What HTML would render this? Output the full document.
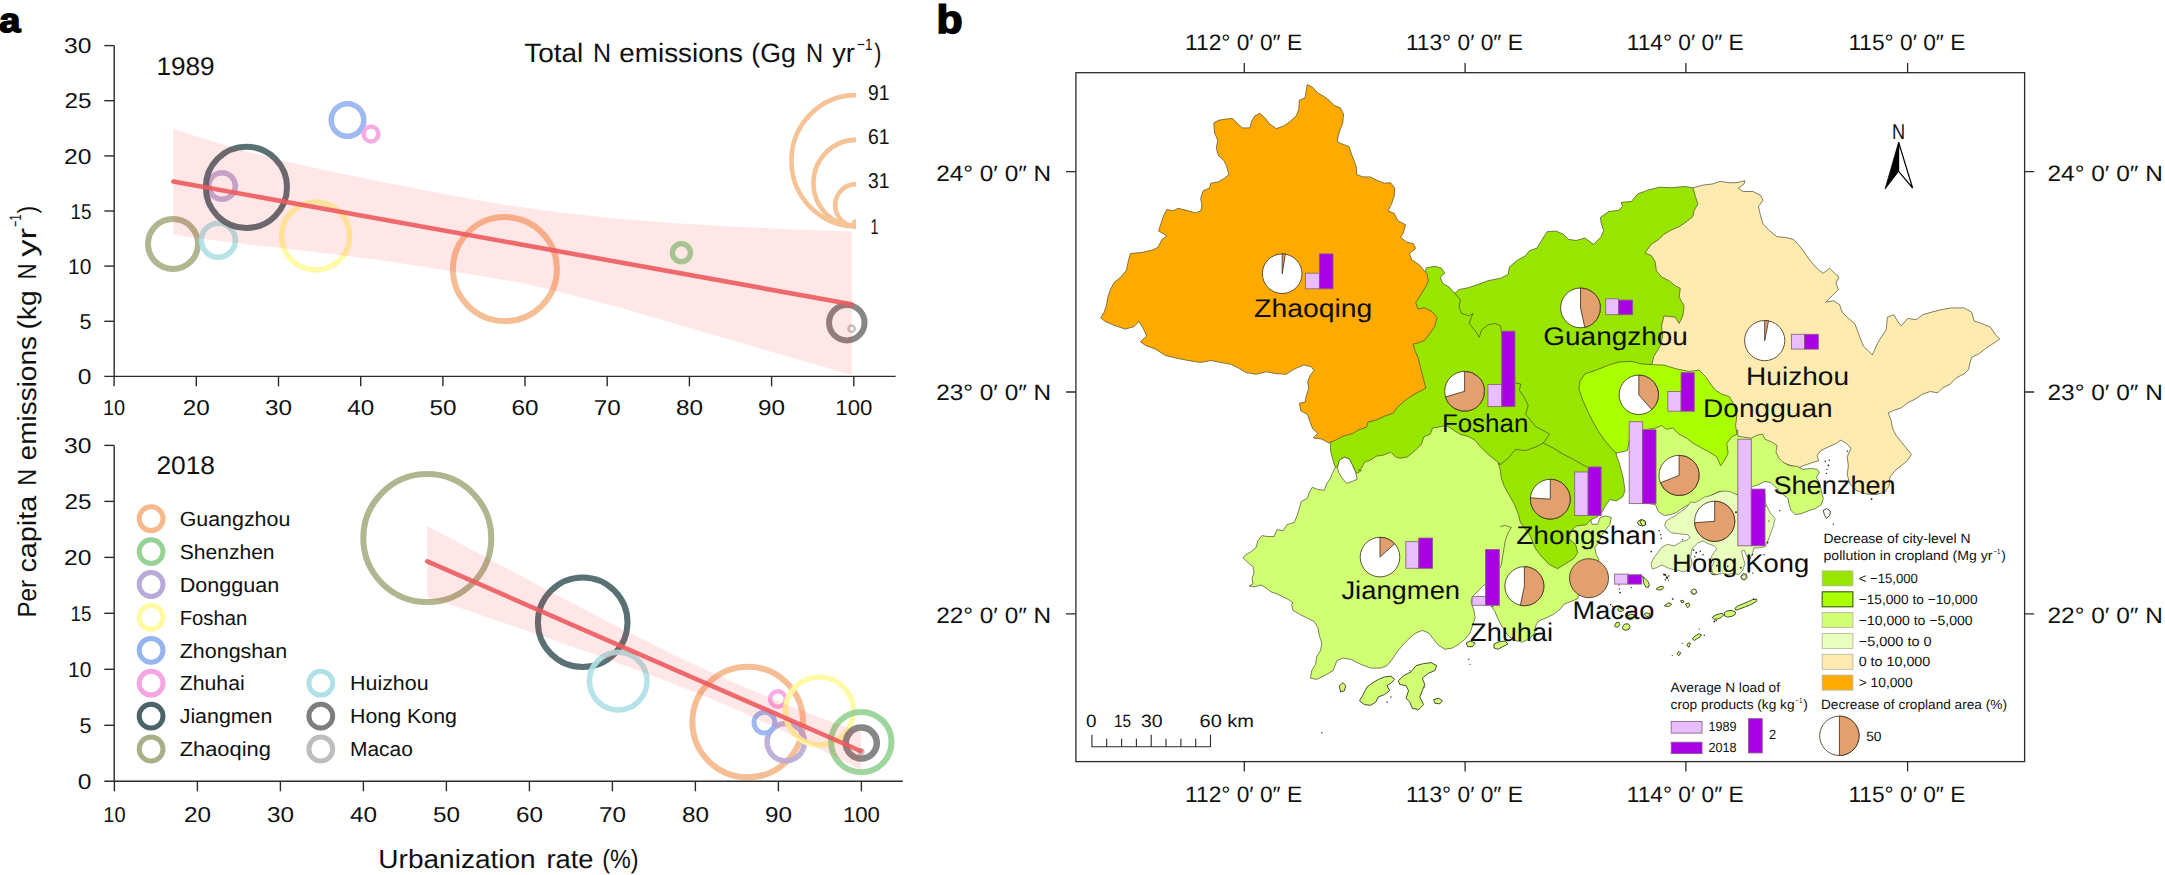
<!DOCTYPE html>
<html lang="en"><head><meta charset="utf-8"><title>Figure</title>
<style>
html,body{margin:0;padding:0;background:#fff;}
body{width:2165px;height:875px;overflow:hidden;}
svg{display:block;font-family:'Liberation Sans', sans-serif;text-rendering:geometricPrecision;}
</style></head><body>
<svg width="2165" height="875" viewBox="0 0 2165 875">
<rect width="2165" height="875" fill="#ffffff"/>
<g id="panel-a">
<text x="-0.8" y="32" font-size="34" textLength="21.2" lengthAdjust="spacingAndGlyphs" font-weight="bold" fill="#000" stroke="#000" stroke-width="1.5">a</text>
<circle cx="504.9" cy="269.1" r="52" fill="none" stroke="#F5B98C" stroke-width="6" stroke-opacity="0.92"/>
<circle cx="315.6" cy="236" r="34" fill="none" stroke="#FFFAA0" stroke-width="5.5" stroke-opacity="0.92"/>
<circle cx="173" cy="244" r="25" fill="none" stroke="#AAAF87" stroke-width="6" stroke-opacity="0.92"/>
<circle cx="218.3" cy="240.2" r="17" fill="none" stroke="#AFE1E6" stroke-width="5.5" stroke-opacity="0.92"/>
<circle cx="222" cy="186" r="13.3" fill="none" stroke="#B9AAD7" stroke-width="5.5" stroke-opacity="0.92"/>
<circle cx="246.4" cy="187.3" r="40.6" fill="none" stroke="#4B6469" stroke-width="6" stroke-opacity="0.92"/>
<circle cx="347.5" cy="120" r="16.3" fill="none" stroke="#96B4F0" stroke-width="5.5" stroke-opacity="0.92"/>
<circle cx="371" cy="134" r="7.4" fill="none" stroke="#F5A5E1" stroke-width="4.5" stroke-opacity="0.92"/>
<circle cx="681.4" cy="252.8" r="9" fill="none" stroke="#96D296" stroke-width="5.5" stroke-opacity="0.92"/>
<circle cx="846.8" cy="322.7" r="17.7" fill="none" stroke="#7D7D7D" stroke-width="6" stroke-opacity="0.92"/>
<circle cx="851.6" cy="328.7" r="3.2" fill="none" stroke="#BEBEBE" stroke-width="2.4" stroke-opacity="0.92"/>
<polygon points="173.3,129 200,137.5 247,151.7 290,162.5 334,172 380,181.5 420,189.3 460,197 500,204 560,212.5 620,219 680,223.5 740,227 800,229.7 852,231.6 852,375 800,360 740,342.5 692,328.8 620,307.5 560,292 520,282.6 460,272.5 420,266.3 380,260 334,254.4 290,249 247,244.2 200,238.5 173.3,234.5" fill="#ff2020" fill-opacity="0.11"/>
<line x1="173.3" y1="181.5" x2="851.5" y2="304.3" stroke="#ec5a5e" stroke-opacity="0.9" stroke-width="4.6" stroke-linecap="round"/>
<path d="M114.2,45.6 V376.4 M104.3,376.4 H895.6" stroke="#2b2b2b" stroke-width="1.4" fill="none"/>
<line x1="104.3" x2="114.2" y1="45.6" y2="45.6" stroke="#2b2b2b" stroke-width="1.4"/>
<text x="91.4" y="53.3" font-size="21.6" text-anchor="end" textLength="27.4" lengthAdjust="spacingAndGlyphs" fill="#111">30</text>
<line x1="104.3" x2="114.2" y1="100.7" y2="100.7" stroke="#2b2b2b" stroke-width="1.4"/>
<text x="91.4" y="108.4" font-size="21.6" text-anchor="end" textLength="27" lengthAdjust="spacingAndGlyphs" fill="#111">25</text>
<line x1="104.3" x2="114.2" y1="155.9" y2="155.9" stroke="#2b2b2b" stroke-width="1.4"/>
<text x="91.4" y="163.6" font-size="21.6" text-anchor="end" textLength="27.4" lengthAdjust="spacingAndGlyphs" fill="#111">20</text>
<line x1="104.3" x2="114.2" y1="211" y2="211" stroke="#2b2b2b" stroke-width="1.4"/>
<text x="91.4" y="218.7" font-size="21.6" text-anchor="end" textLength="20.9" lengthAdjust="spacingAndGlyphs" fill="#111">15</text>
<line x1="104.3" x2="114.2" y1="266.1" y2="266.1" stroke="#2b2b2b" stroke-width="1.4"/>
<text x="91.4" y="273.8" font-size="21.6" text-anchor="end" textLength="23.3" lengthAdjust="spacingAndGlyphs" fill="#111">10</text>
<line x1="104.3" x2="114.2" y1="321.3" y2="321.3" stroke="#2b2b2b" stroke-width="1.4"/>
<text x="91.4" y="329" font-size="21.6" text-anchor="end" textLength="12" lengthAdjust="spacingAndGlyphs" fill="#111">5</text>
<text x="91.4" y="384.1" font-size="21.6" text-anchor="end" textLength="13.7" lengthAdjust="spacingAndGlyphs" fill="#111">0</text>
<line x1="114.1" x2="114.1" y1="376.4" y2="386.3" stroke="#2b2b2b" stroke-width="1.4"/>
<text x="114.1" y="415.2" font-size="21.6" text-anchor="middle" textLength="22.2" lengthAdjust="spacingAndGlyphs" fill="#111">10</text>
<line x1="196.3" x2="196.3" y1="376.4" y2="386.3" stroke="#2b2b2b" stroke-width="1.4"/>
<text x="196.3" y="415.2" font-size="21.6" text-anchor="middle" textLength="27" lengthAdjust="spacingAndGlyphs" fill="#111">20</text>
<line x1="278.5" x2="278.5" y1="376.4" y2="386.3" stroke="#2b2b2b" stroke-width="1.4"/>
<text x="278.5" y="415.2" font-size="21.6" text-anchor="middle" textLength="27" lengthAdjust="spacingAndGlyphs" fill="#111">30</text>
<line x1="360.7" x2="360.7" y1="376.4" y2="386.3" stroke="#2b2b2b" stroke-width="1.4"/>
<text x="360.7" y="415.2" font-size="21.6" text-anchor="middle" textLength="27" lengthAdjust="spacingAndGlyphs" fill="#111">40</text>
<line x1="442.9" x2="442.9" y1="376.4" y2="386.3" stroke="#2b2b2b" stroke-width="1.4"/>
<text x="442.9" y="415.2" font-size="21.6" text-anchor="middle" textLength="27" lengthAdjust="spacingAndGlyphs" fill="#111">50</text>
<line x1="525" x2="525" y1="376.4" y2="386.3" stroke="#2b2b2b" stroke-width="1.4"/>
<text x="525" y="415.2" font-size="21.6" text-anchor="middle" textLength="27" lengthAdjust="spacingAndGlyphs" fill="#111">60</text>
<line x1="607.2" x2="607.2" y1="376.4" y2="386.3" stroke="#2b2b2b" stroke-width="1.4"/>
<text x="607.2" y="415.2" font-size="21.6" text-anchor="middle" textLength="27" lengthAdjust="spacingAndGlyphs" fill="#111">70</text>
<line x1="689.4" x2="689.4" y1="376.4" y2="386.3" stroke="#2b2b2b" stroke-width="1.4"/>
<text x="689.4" y="415.2" font-size="21.6" text-anchor="middle" textLength="27" lengthAdjust="spacingAndGlyphs" fill="#111">80</text>
<line x1="771.6" x2="771.6" y1="376.4" y2="386.3" stroke="#2b2b2b" stroke-width="1.4"/>
<text x="771.6" y="415.2" font-size="21.6" text-anchor="middle" textLength="27" lengthAdjust="spacingAndGlyphs" fill="#111">90</text>
<line x1="853.8" x2="853.8" y1="376.4" y2="386.3" stroke="#2b2b2b" stroke-width="1.4"/>
<text x="853.8" y="415.2" font-size="21.6" text-anchor="middle" textLength="37" lengthAdjust="spacingAndGlyphs" fill="#111">100</text>
<text x="156.4" y="74.9" font-size="25.6" textLength="58.3" lengthAdjust="spacingAndGlyphs" fill="#111">1989</text>
<text x="524.2" y="61.6" font-size="26.6" textLength="59.1" lengthAdjust="spacingAndGlyphs" fill="#111">Total</text>
<text x="592.9" y="61.6" font-size="26.6" textLength="18.1" lengthAdjust="spacingAndGlyphs" fill="#111">N</text>
<text x="619.3" y="61.6" font-size="26.6" textLength="123.7" lengthAdjust="spacingAndGlyphs" fill="#111">emissions</text>
<text x="751.3" y="61.6" font-size="26.6" textLength="44.5" lengthAdjust="spacingAndGlyphs" fill="#111">(Gg</text>
<text x="805.9" y="61.6" font-size="26.6" textLength="17.1" lengthAdjust="spacingAndGlyphs" fill="#111">N</text>
<text x="832.3" y="61.6" font-size="26.6" textLength="22.6" lengthAdjust="spacingAndGlyphs" fill="#111">yr</text>
<text x="857" y="49.5" font-size="16.5" textLength="15.5" lengthAdjust="spacingAndGlyphs" fill="#111">−1</text>
<text x="874.2" y="61.6" font-size="26.6" textLength="7.1" lengthAdjust="spacingAndGlyphs" fill="#111">)</text>
<path d="M856,95.1 A64.6,65.6 0 0 0 856,226.3" fill="none" stroke="#F5C396" stroke-width="4.6"/>
<path d="M856,139.9 A42.6,43.2 0 0 0 856,226.3" fill="none" stroke="#F5C396" stroke-width="4.6"/>
<path d="M856,184.1 A20.8,21.1 0 0 0 856,226.3" fill="none" stroke="#F5C396" stroke-width="4.6"/>
<path d="M856,221.5 A2.4,2.4 0 0 0 856,226.3" fill="none" stroke="#F5C396" stroke-width="4.6"/>
<text x="868" y="99.8" font-size="21.6" textLength="21.5" lengthAdjust="spacingAndGlyphs" fill="#111">91</text>
<text x="868" y="144.4" font-size="21.6" textLength="21.5" lengthAdjust="spacingAndGlyphs" fill="#111">61</text>
<text x="868" y="187.6" font-size="21.6" textLength="21.5" lengthAdjust="spacingAndGlyphs" fill="#111">31</text>
<text x="870.5" y="233.5" font-size="21.6" textLength="8" lengthAdjust="spacingAndGlyphs" fill="#111">1</text>
<circle cx="427.3" cy="538.1" r="64" fill="none" stroke="#AAAF87" stroke-width="6" stroke-opacity="0.92"/>
<circle cx="582.7" cy="622.3" r="44.8" fill="none" stroke="#4B6469" stroke-width="6" stroke-opacity="0.92"/>
<circle cx="618.2" cy="681.1" r="28.8" fill="none" stroke="#AFE1E6" stroke-width="5.5" stroke-opacity="0.92"/>
<circle cx="747.7" cy="722" r="55.3" fill="none" stroke="#F5B98C" stroke-width="6" stroke-opacity="0.92"/>
<circle cx="785.8" cy="742.1" r="18.7" fill="none" stroke="#B9AAD7" stroke-width="5.5" stroke-opacity="0.92"/>
<circle cx="764.4" cy="722.6" r="10.4" fill="none" stroke="#96B4F0" stroke-width="5" stroke-opacity="0.92"/>
<circle cx="777.9" cy="699" r="7.8" fill="none" stroke="#F5A5E1" stroke-width="4.5" stroke-opacity="0.92"/>
<circle cx="819.4" cy="711" r="34" fill="none" stroke="#FFFAA0" stroke-width="5.5" stroke-opacity="0.92"/>
<circle cx="861.3" cy="742.1" r="30.2" fill="none" stroke="#96D296" stroke-width="6" stroke-opacity="0.92"/>
<circle cx="861.3" cy="743.1" r="15.5" fill="none" stroke="#7D7D7D" stroke-width="6.5" stroke-opacity="0.92"/>
<circle cx="861" cy="751.6" r="2.6" fill="none" stroke="#BEBEBE" stroke-width="2.2" stroke-opacity="0.92"/>
<polygon points="427.3,525.9 445.4,535.6 463.4,545.3 481.5,555 499.6,564.6 517.7,574.3 535.7,583.8 553.8,593.4 571.9,602.9 589.9,612.3 608,621.7 626.1,630.9 644.1,640 662.2,649 680.3,657.8 698.4,666.4 716.4,674.8 734.5,682.8 752.6,690.6 770.6,698.1 788.7,705.3 806.8,712.4 824.9,719.2 842.9,725.9 861,732.4 861,769.9 842.9,760.7 824.9,751.6 806.8,742.6 788.7,733.8 770.6,725.2 752.6,716.9 734.5,708.8 716.4,701.1 698.4,693.6 680.3,686.4 662.2,679.4 644.1,672.5 626.1,665.9 608,659.3 589.9,652.8 571.9,646.5 553.8,640.1 535.7,633.9 517.7,627.6 499.6,621.4 481.5,615.3 463.4,609.1 445.4,603 427.3,596.9" fill="#ff2020" fill-opacity="0.11"/>
<line x1="427.3" y1="561.4" x2="860.6" y2="751" stroke="#ec5a5e" stroke-opacity="0.9" stroke-width="4.6" stroke-linecap="round"/>
<path d="M114.2,445.4 V781.3 M104.3,781.3 H902.8" stroke="#2b2b2b" stroke-width="1.4" fill="none"/>
<line x1="104.3" x2="114.2" y1="445.4" y2="445.4" stroke="#2b2b2b" stroke-width="1.4"/>
<text x="91.4" y="453.1" font-size="21.6" text-anchor="end" textLength="27.4" lengthAdjust="spacingAndGlyphs" fill="#111">30</text>
<line x1="104.3" x2="114.2" y1="501.4" y2="501.4" stroke="#2b2b2b" stroke-width="1.4"/>
<text x="91.4" y="509.1" font-size="21.6" text-anchor="end" textLength="27" lengthAdjust="spacingAndGlyphs" fill="#111">25</text>
<line x1="104.3" x2="114.2" y1="557.4" y2="557.4" stroke="#2b2b2b" stroke-width="1.4"/>
<text x="91.4" y="565.1" font-size="21.6" text-anchor="end" textLength="27.4" lengthAdjust="spacingAndGlyphs" fill="#111">20</text>
<line x1="104.3" x2="114.2" y1="613.3" y2="613.3" stroke="#2b2b2b" stroke-width="1.4"/>
<text x="91.4" y="621" font-size="21.6" text-anchor="end" textLength="20.9" lengthAdjust="spacingAndGlyphs" fill="#111">15</text>
<line x1="104.3" x2="114.2" y1="669.3" y2="669.3" stroke="#2b2b2b" stroke-width="1.4"/>
<text x="91.4" y="677" font-size="21.6" text-anchor="end" textLength="23.3" lengthAdjust="spacingAndGlyphs" fill="#111">10</text>
<line x1="104.3" x2="114.2" y1="725.3" y2="725.3" stroke="#2b2b2b" stroke-width="1.4"/>
<text x="91.4" y="733" font-size="21.6" text-anchor="end" textLength="12" lengthAdjust="spacingAndGlyphs" fill="#111">5</text>
<text x="91.4" y="789" font-size="21.6" text-anchor="end" textLength="13.7" lengthAdjust="spacingAndGlyphs" fill="#111">0</text>
<line x1="114.4" x2="114.4" y1="781.3" y2="791.3" stroke="#2b2b2b" stroke-width="1.4"/>
<text x="114.4" y="821.6" font-size="21.6" text-anchor="middle" textLength="22.2" lengthAdjust="spacingAndGlyphs" fill="#111">10</text>
<line x1="197.4" x2="197.4" y1="781.3" y2="791.3" stroke="#2b2b2b" stroke-width="1.4"/>
<text x="197.4" y="821.6" font-size="21.6" text-anchor="middle" textLength="27" lengthAdjust="spacingAndGlyphs" fill="#111">20</text>
<line x1="280.4" x2="280.4" y1="781.3" y2="791.3" stroke="#2b2b2b" stroke-width="1.4"/>
<text x="280.4" y="821.6" font-size="21.6" text-anchor="middle" textLength="27" lengthAdjust="spacingAndGlyphs" fill="#111">30</text>
<line x1="363.4" x2="363.4" y1="781.3" y2="791.3" stroke="#2b2b2b" stroke-width="1.4"/>
<text x="363.4" y="821.6" font-size="21.6" text-anchor="middle" textLength="27" lengthAdjust="spacingAndGlyphs" fill="#111">40</text>
<line x1="446.4" x2="446.4" y1="781.3" y2="791.3" stroke="#2b2b2b" stroke-width="1.4"/>
<text x="446.4" y="821.6" font-size="21.6" text-anchor="middle" textLength="27" lengthAdjust="spacingAndGlyphs" fill="#111">50</text>
<line x1="529.4" x2="529.4" y1="781.3" y2="791.3" stroke="#2b2b2b" stroke-width="1.4"/>
<text x="529.4" y="821.6" font-size="21.6" text-anchor="middle" textLength="27" lengthAdjust="spacingAndGlyphs" fill="#111">60</text>
<line x1="612.4" x2="612.4" y1="781.3" y2="791.3" stroke="#2b2b2b" stroke-width="1.4"/>
<text x="612.4" y="821.6" font-size="21.6" text-anchor="middle" textLength="27" lengthAdjust="spacingAndGlyphs" fill="#111">70</text>
<line x1="695.4" x2="695.4" y1="781.3" y2="791.3" stroke="#2b2b2b" stroke-width="1.4"/>
<text x="695.4" y="821.6" font-size="21.6" text-anchor="middle" textLength="27" lengthAdjust="spacingAndGlyphs" fill="#111">80</text>
<line x1="778.4" x2="778.4" y1="781.3" y2="791.3" stroke="#2b2b2b" stroke-width="1.4"/>
<text x="778.4" y="821.6" font-size="21.6" text-anchor="middle" textLength="27" lengthAdjust="spacingAndGlyphs" fill="#111">90</text>
<line x1="861.4" x2="861.4" y1="781.3" y2="791.3" stroke="#2b2b2b" stroke-width="1.4"/>
<text x="861.4" y="821.6" font-size="21.6" text-anchor="middle" textLength="37" lengthAdjust="spacingAndGlyphs" fill="#111">100</text>
<text x="156.4" y="474.3" font-size="25.6" textLength="58.6" lengthAdjust="spacingAndGlyphs" fill="#111">2018</text>
<text x="378.3" y="867.6" font-size="26.2" textLength="157.4" lengthAdjust="spacingAndGlyphs" fill="#111">Urbanization</text>
<text x="546.4" y="867.6" font-size="26.2" textLength="47.1" lengthAdjust="spacingAndGlyphs" fill="#111">rate</text>
<text x="602.2" y="867.6" font-size="26.2" textLength="36.3" lengthAdjust="spacingAndGlyphs" fill="#111">(%)</text>
<circle cx="151.1" cy="518.7" r="11.9" fill="none" stroke="#F5B98C" stroke-width="5" stroke-opacity="1"/>
<text x="179.7" y="525.9" font-size="20.4" textLength="110.6" lengthAdjust="spacingAndGlyphs" fill="#111">Guangzhou</text>
<circle cx="151.1" cy="551.6" r="11.9" fill="none" stroke="#96D296" stroke-width="5" stroke-opacity="1"/>
<text x="179.7" y="558.8" font-size="20.4" textLength="94.9" lengthAdjust="spacingAndGlyphs" fill="#111">Shenzhen</text>
<circle cx="151.1" cy="584.5" r="11.9" fill="none" stroke="#B9AAD7" stroke-width="5" stroke-opacity="1"/>
<text x="179.7" y="591.7" font-size="20.4" textLength="99.6" lengthAdjust="spacingAndGlyphs" fill="#111">Dongguan</text>
<circle cx="151.1" cy="617.4" r="11.9" fill="none" stroke="#FFFAA0" stroke-width="5" stroke-opacity="1"/>
<text x="179.7" y="624.6" font-size="20.4" textLength="67.6" lengthAdjust="spacingAndGlyphs" fill="#111">Foshan</text>
<circle cx="151.1" cy="650.3" r="11.9" fill="none" stroke="#96B4F0" stroke-width="5" stroke-opacity="1"/>
<text x="179.7" y="657.5" font-size="20.4" textLength="107.5" lengthAdjust="spacingAndGlyphs" fill="#111">Zhongshan</text>
<circle cx="151.1" cy="683.2" r="11.9" fill="none" stroke="#F5A5E1" stroke-width="5" stroke-opacity="1"/>
<text x="179.7" y="690.4" font-size="20.4" textLength="65" lengthAdjust="spacingAndGlyphs" fill="#111">Zhuhai</text>
<circle cx="151.1" cy="716.1" r="11.9" fill="none" stroke="#4B6469" stroke-width="5" stroke-opacity="1"/>
<text x="179.7" y="723.3" font-size="20.4" textLength="92.7" lengthAdjust="spacingAndGlyphs" fill="#111">Jiangmen</text>
<circle cx="151.1" cy="749" r="11.9" fill="none" stroke="#AAAF87" stroke-width="5" stroke-opacity="1"/>
<text x="179.7" y="756.2" font-size="20.4" textLength="91.1" lengthAdjust="spacingAndGlyphs" fill="#111">Zhaoqing</text>
<circle cx="320.8" cy="683.2" r="11.9" fill="none" stroke="#AFE1E6" stroke-width="5" stroke-opacity="1"/>
<text x="350" y="690.4" font-size="20.4" textLength="78.6" lengthAdjust="spacingAndGlyphs" fill="#111">Huizhou</text>
<circle cx="320.8" cy="716.1" r="11.9" fill="none" stroke="#7D7D7D" stroke-width="5" stroke-opacity="1"/>
<text x="350" y="723.3" font-size="20.4" textLength="106.9" lengthAdjust="spacingAndGlyphs" fill="#111">Hong Kong</text>
<circle cx="320.8" cy="749" r="11.9" fill="none" stroke="#BEBEBE" stroke-width="5" stroke-opacity="1"/>
<text x="350" y="756.2" font-size="20.4" textLength="62.9" lengthAdjust="spacingAndGlyphs" fill="#111">Macao</text>
<g transform="translate(36.2,617.6) rotate(-90)">
<text x="0" y="0" font-size="26.2" textLength="37.7" lengthAdjust="spacingAndGlyphs" fill="#111">Per</text>
<text x="45" y="0" font-size="26.2" textLength="76.8" lengthAdjust="spacingAndGlyphs" fill="#111">capita</text>
<text x="132" y="0" font-size="26.2" textLength="16.5" lengthAdjust="spacingAndGlyphs" fill="#111">N</text>
<text x="157.2" y="0" font-size="26.2" textLength="124.4" lengthAdjust="spacingAndGlyphs" fill="#111">emissions</text>
<text x="288" y="0" font-size="26.2" textLength="39.2" lengthAdjust="spacingAndGlyphs" fill="#111">(kg</text>
<text x="338.3" y="0" font-size="26.2" textLength="15.7" lengthAdjust="spacingAndGlyphs" fill="#111">N</text>
<text x="360.8" y="0" font-size="26.2" textLength="28.8" lengthAdjust="spacingAndGlyphs" fill="#111">yr</text>
<text x="390.6" y="-15.2" font-size="16.5" textLength="12.6" lengthAdjust="spacingAndGlyphs" fill="#111">−1</text>
<text x="404.2" y="0" font-size="26.2" textLength="7.8" lengthAdjust="spacingAndGlyphs" fill="#111">)</text>
</g>
</g>
<g id="panel-b">
<text x="936.6" y="32.8" font-size="39.5" textLength="26.1" lengthAdjust="spacingAndGlyphs" font-weight="bold" fill="#000" stroke="#000" stroke-width="1.6">b</text>
<clipPath id="fc"><rect x="1075.9" y="72.7" width="948.7" height="688.9"/></clipPath>
<g clip-path="url(#fc)">
<path d="M1693.1,187.7 L1702.6,185.2 L1712.7,183.9 L1720.2,181.4 L1729,182.7 L1736.6,182.7 L1744.9,180.7 L1744.1,183.9 L1738.3,188.2 L1742.9,191.5 L1752.9,191.5 L1760.5,195.3 L1763,200.3 L1758.4,206.6 L1760.5,215.4 L1763,224.2 L1769.3,230.5 L1776.8,236.7 L1785.6,237.5 L1793.1,239.3 L1798.2,244.3 L1803.2,250.6 L1808.2,258.1 L1813.2,264.4 L1819.5,270.7 L1823.3,273.2 L1829.6,268.2 L1834.6,273.2 L1838.9,277 L1835.9,283.2 L1838.4,289.5 L1832.1,295.8 L1825.8,302.1 L1833.4,300.8 L1839.6,304.6 L1842.2,312.2 L1848.4,318.4 L1854.7,323.5 L1857.2,329.8 L1859.8,337.3 L1863.5,346.1 L1868.6,351.1 L1872.3,354.9 L1877.4,343.6 L1881.1,337.3 L1886.2,329.8 L1887.4,317.2 L1893.7,314.7 L1897.5,321 L1901.2,326 L1907.5,318.4 L1916.3,319.7 L1922.6,314.7 L1931.4,312.2 L1941.5,309.6 L1951.5,307.9 L1964.1,307.9 L1971.6,312.2 L1974.2,321 L1981.7,323.5 L1990.5,327.2 L1995.5,334.8 L1999.8,339.1 L1993,343.6 L1985.5,348.6 L1979.2,353.6 L1971.6,357.4 L1969.1,366.2 L1969.1,368.9 L1964.1,373.9 L1956.6,377.7 L1950.3,384 L1942.7,387.8 L1937.7,392.8 L1930.2,391.5 L1922.6,394.1 L1915.1,399.1 L1907.5,402.9 L1901.2,407.9 L1893.7,410.4 L1888.2,412.9 L1891.2,420.5 L1892.4,428 L1896.2,435.5 L1901.2,441.8 L1906.3,448.1 L1911.3,454.4 L1907.5,460.7 L1901.2,465.7 L1895,470.7 L1889.9,477 L1889.2,485.8 L1884.9,492.1 L1876.1,494.6 L1866,493.9 L1856,490.3 L1849.7,483.3 L1847.2,474.5 L1848.4,465.7 L1847.2,456.9 L1851,448.1 L1845.9,443.1 L1840.9,440.1 L1835.9,443.6 L1828.3,446.9 L1820.8,450.6 L1817,455.7 L1818.8,460.7 L1810.7,463.2 L1803.2,465.7 L1798.2,468.2 L1755.4,453.1 L1705.1,415.4 L1626.3,390.3 L1626.3,300.8 L1636.3,250.6 L1676.6,212.9Z" fill="#FFEBAF" stroke="#4a4a2a" stroke-width="0.7" stroke-linejoin="round"/>
<path d="M1335.5,467.2 L1332.4,473.2 L1330.4,478.3 L1326.4,484.3 L1324.4,490.3 L1317.4,489.3 L1312.3,487.3 L1309.3,492.3 L1307.3,498.4 L1301.3,501.4 L1299.3,508.4 L1297.2,515.5 L1294.2,522.5 L1287.2,524.5 L1283.2,530.6 L1277.1,529.6 L1274.1,536.6 L1268.1,536.6 L1262,535.6 L1258,540.6 L1256,547.7 L1251,551.7 L1246,554.7 L1242.9,557.7 L1247,561.7 L1253,566.8 L1254,572.8 L1252,578.8 L1253,583.9 L1249,585.9 L1254,586.9 L1261,584.9 L1266.1,587.9 L1271.1,591.9 L1277.1,593.9 L1283.2,596.9 L1289.2,600 L1293.2,603 L1291.6,604 L1292.9,610.3 L1299.1,614.1 L1306.7,617.8 L1314.2,621.6 L1318,627.9 L1319.3,635.4 L1321.8,643 L1320.5,650.5 L1316.7,656.8 L1315.5,664.3 L1311.7,670.6 L1310.5,678.2 L1316.7,679.4 L1326.8,674.4 L1333.1,670.6 L1336.9,660.6 L1343.1,658.1 L1350.7,659.3 L1360.7,664.3 L1370.8,668.1 L1380.8,668.1 L1387.1,665.6 L1392.2,659.3 L1397.2,651.8 L1403.5,644.2 L1409.8,637.9 L1416,632.9 L1422.3,630.4 L1428.6,632.9 L1433.6,639.2 L1438.7,645.5 L1445,649.3 L1452.5,648 L1458.8,644.2 L1465.1,639.2 L1470.1,632.9 L1472.6,625.4 L1475.1,617.8 L1473.9,610.3 L1471.4,602.7 L1471.1,600.9 L1473.1,595.9 L1479.2,589.8 L1484.2,584.8 L1489.2,588.8 L1492.2,598.9 L1493.3,606.9 L1490.8,605.8 L1494.9,611.3 L1497.6,618.2 L1500.4,623.7 L1504.5,630.5 L1508.6,636 L1514.1,640.1 L1522.3,642.2 L1529.2,638.8 L1534.7,633.3 L1536,625 L1538.8,620.9 L1545.6,618.2 L1553.9,614.1 L1560.7,608.6 L1563.5,604.5 L1570.3,601.7 L1577.2,599 L1599,559.9 L1596.2,554.4 L1594.8,547.6 L1599,542.1 L1601.7,535.2 L1605.8,529.8 L1609.9,524.3 L1611.3,517.4 L1605.8,516 L1600.3,517.4 L1597.6,524.3 L1592.1,524.3 L1590.7,519.5 L1581.1,520.8 L1574.3,522.9 L1567.4,531.1 L1561,530 L1530,480 L1500,440 L1475,420 L1446,405 L1425,415 L1410,435 L1400,440 L1375,445 L1362,455Z" fill="#D1FF73" stroke="#4a4a2a" stroke-width="0.7" stroke-linejoin="round"/>
<path d="M1359.5,700.8 L1363.2,694.5 L1367,687 L1372,683.2 L1378.3,679.4 L1384.6,676.9 L1390.9,676.2 L1394.7,679.4 L1390.9,683.2 L1387.1,685.7 L1389.6,690.7 L1384.6,694.5 L1378.3,697 L1375.8,702 L1370.8,705.3 L1364.5,704.6Z" fill="#D1FF73" stroke="#1e1e10" stroke-width="0.8" stroke-linejoin="round"/>
<path d="M1398.4,680.7 L1403.5,675.7 L1411,671.9 L1416,665.6 L1423.6,663.6 L1431.1,662.6 L1436.7,665.6 L1434.9,670.6 L1428.6,673.1 L1422.3,678.2 L1424.8,684.5 L1422.3,690.7 L1419.8,697 L1423.6,704.6 L1418.6,709.6 L1412.3,708.3 L1409.8,702 L1406,698.3 L1408.5,690.7 L1406,685.7 L1399.7,684.5Z" fill="#D1FF73" stroke="#1e1e10" stroke-width="0.8" stroke-linejoin="round"/>
<path d="M1339.4,685.7 L1343.1,682.7 L1345.7,685.7 L1344.4,690.7 L1340.6,692Z" fill="#D1FF73" stroke="#1e1e10" stroke-width="0.8" stroke-linejoin="round"/>
<path d="M1433.6,699.5 L1438.7,698.3 L1442.4,700.8 L1439.9,703.8 L1434.9,703.3Z" fill="#D1FF73" stroke="#1e1e10" stroke-width="0.8" stroke-linejoin="round"/>
<path d="M1466.3,643 L1470.1,641 L1475.1,643 L1472.6,646.7 L1467.6,646.7Z" fill="#D1FF73" stroke="#1e1e10" stroke-width="0.8" stroke-linejoin="round"/>
<path d="M1494,644.2 L1499,641.7 L1505.3,641 L1507.8,644.2 L1502.8,646.7 L1497.8,649.3 L1494,648Z" fill="#D1FF73" stroke="#1e1e10" stroke-width="0.8" stroke-linejoin="round"/>
<path d="M1642.7,576.3 L1645.3,578.8 L1647.8,581.3 L1649.3,584.5 L1648.4,587.3 L1645.9,587 L1644,583.8 L1643.4,580.1Z" fill="#D1FF73" stroke="#1e1e10" stroke-width="0.8" stroke-linejoin="round"/>
<path d="M1656.2,588.9 L1659.1,587 L1662.2,586.1 L1663.9,587.3 L1662.2,589.5 L1658.5,590.1Z" fill="#D1FF73" stroke="#1e1e10" stroke-width="0.8" stroke-linejoin="round"/>
<path d="M1690.8,591.4 L1693,589.1 L1695.8,589.5 L1696.8,592.6 L1694.3,594.5 L1691.8,593.6Z" fill="#D1FF73" stroke="#1e1e10" stroke-width="0.8" stroke-linejoin="round"/>
<path d="M1664.4,605.8 L1667.3,603.3 L1670.4,602.9 L1671.4,604.6 L1668.5,606.5Z" fill="#D1FF73" stroke="#1e1e10" stroke-width="0.8" stroke-linejoin="round"/>
<path d="M1712.1,617.5 L1715,615.3 L1718.8,614 L1722.6,613.4 L1723.4,615.3 L1721.3,617.5 L1717.5,619 L1713.8,619.3Z" fill="#D1FF73" stroke="#1e1e10" stroke-width="0.8" stroke-linejoin="round"/>
<path d="M1724.2,612.7 L1727,610.9 L1732,610.5 L1735.5,612.1 L1735.1,614.6 L1732,616.3 L1727.6,617.1 L1724.5,615.9Z" fill="#D1FF73" stroke="#1e1e10" stroke-width="0.8" stroke-linejoin="round"/>
<path d="M1734.8,608.3 L1738.3,605.8 L1743.3,603.7 L1748.3,601.7 L1752.7,599.5 L1756.5,599.2 L1756.9,600.8 L1754,602.9 L1749.6,605.2 L1744.6,607.1 L1739.5,609 L1735.8,610.2Z" fill="#D1FF73" stroke="#1e1e10" stroke-width="0.8" stroke-linejoin="round"/>
<path d="M1692.4,638.9 L1694.9,636 L1698.7,633.9 L1701.2,634.4 L1700.6,636.6 L1697.4,638.5 L1694.3,640.4Z" fill="#D1FF73" stroke="#1e1e10" stroke-width="0.8" stroke-linejoin="round"/>
<path d="M1614.5,625.9 L1616.1,622.8 L1618.9,622.2 L1619.9,624.7 L1618.2,626.8 L1615.7,627.2Z" fill="#D1FF73" stroke="#1e1e10" stroke-width="0.8" stroke-linejoin="round"/>
<path d="M1622.4,627.2 L1624.5,624.1 L1628.3,623.8 L1630.2,626.3 L1628.9,629.1 L1625.8,630.3 L1623.3,629.7Z" fill="#D1FF73" stroke="#1e1e10" stroke-width="0.8" stroke-linejoin="round"/>
<path d="M1617.6,609 L1620.1,606.7 L1623.3,607.5 L1623.9,610 L1621.4,611.5 L1618.6,611.2Z" fill="#D1FF73" stroke="#1e1e10" stroke-width="0.8" stroke-linejoin="round"/>
<path d="M1627,616.8 L1630.2,614.2 L1633.9,614.6 L1634.6,617.5 L1631.4,619.7 L1628.3,619.3Z" fill="#D1FF73" stroke="#1e1e10" stroke-width="0.8" stroke-linejoin="round"/>
<path d="M1644,614.2 L1646.8,612.7 L1650,613.7 L1649.7,615.9 L1646.5,616.8Z" fill="#D1FF73" stroke="#1e1e10" stroke-width="0.8" stroke-linejoin="round"/>
<path d="M1710.6,572.5 L1713.1,570 L1718.2,570.6 L1719.4,573.1 L1715.7,574.8 L1711.9,574.4Z" fill="#D1FF73" stroke="#1e1e10" stroke-width="0.8" stroke-linejoin="round"/>
<path d="M1740.8,576.3 L1743.3,573.5 L1746.4,574.4 L1747.1,577.5 L1744.6,580.1 L1741.8,579.1Z" fill="#D1FF73" stroke="#1e1e10" stroke-width="0.8" stroke-linejoin="round"/>
<path d="M1680.5,600.8 L1683,600.2 L1684,602.1 L1681.7,602.7Z" fill="#D1FF73" stroke="#1e1e10" stroke-width="0.8" stroke-linejoin="round"/>
<path d="M1685.5,603.9 L1688.6,602.9 L1689.9,605.8 L1687.4,607.7Z" fill="#D1FF73" stroke="#1e1e10" stroke-width="0.8" stroke-linejoin="round"/>
<path d="M1686.7,645.4 L1688.6,642.7 L1690.5,643.5 L1689,647.3Z" fill="#D1FF73" stroke="#1e1e10" stroke-width="0.8" stroke-linejoin="round"/>
<path d="M1676.9,653.6 L1679.2,651.5 L1680.7,653 L1678.9,655.7Z" fill="#D1FF73" stroke="#1e1e10" stroke-width="0.8" stroke-linejoin="round"/>
<path d="M1637.3,522.2 L1640.8,519.5 L1644.9,520.8 L1645.6,524.3 L1642.1,525.9 L1638.7,525Z" fill="#D1FF73" stroke="#1e1e10" stroke-width="0.8" stroke-linejoin="round"/>
<path d="M1640,521.1 L1642.7,519.8 L1645.5,521.8 L1645.2,525.2 L1642.1,525.9Z" fill="#D1FF73" stroke="#1e1e10" stroke-width="0.8" stroke-linejoin="round"/>
<path d="M1823.3,510.2 L1826.9,508.6 L1830.3,511 L1829.7,515.6 L1826.3,518.3 L1824.3,514.6Z" fill="#fff" stroke="#1e1e10" stroke-width="0.8" stroke-linejoin="round"/>
<path d="M1642.3,412.1 L1670.5,420.1 L1694.6,434.2 L1718.7,454.3 L1726.8,440.2 L1730.8,430.2 L1737.8,430.2 L1737.8,436.2 L1750.9,438.2 L1756.9,435.2 L1762.6,434.2 L1765,439.2 L1772,442.2 L1777,445.3 L1776,452.3 L1779.1,458.3 L1783.1,462.3 L1789.1,465.4 L1797.2,466.4 L1803.2,469.4 L1811.2,468.4 L1817.3,469.4 L1819.3,472.4 L1816.3,477.4 L1819.3,482.5 L1821.3,490.5 L1823.3,498.6 L1821.3,504.6 L1815.3,508.6 L1809.2,510.6 L1801.2,513.6 L1795.1,514.6 L1791.1,510.6 L1789.1,504.6 L1788.1,498.6 L1783.1,494.5 L1777,488.5 L1771,482.5 L1765,481.5 L1758.9,484.5 L1752.9,486.5 L1737.8,494.5 L1730.8,494.5 L1724.8,491.5 L1718.7,491.5 L1712.7,494.5 L1706.7,497.5 L1702.6,502.6 L1694.6,503.6 L1686.5,505.6 L1680.5,509.6 L1676.5,512.6 L1670.5,514.6 L1664.4,515.6 L1658.4,511.6 L1655.4,504.6 L1642.3,502.6Z" fill="#D1FF73" stroke="#4a4a2a" stroke-width="0.7" stroke-linejoin="round"/>
<path d="M1690.7,501.9 L1694.8,502.6 L1699,500.6 L1704.4,497.1 L1709.9,495.8 L1715.4,493.7 L1719.5,491.7 L1725,491 L1730.5,491.7 L1734.6,493.7 L1738,495.1 L1751.3,493.7 L1765,493.7 L1765.4,501.9 L1767.5,507.4 L1770.2,512.9 L1775,518.4 L1773.7,525.2 L1771.6,530.7 L1769.6,536.2 L1767.5,541.7 L1765.4,546.5 L1759.3,547.9 L1753.8,547.9 L1752.4,554 L1749.7,559.5 L1746.9,556.8 L1744.2,549.9 L1741.5,551.3 L1742.8,556.8 L1744.9,563.6 L1742.8,570.5 L1738.7,574.6 L1733.2,573.2 L1727.7,574.6 L1722.3,573.2 L1716.8,574.6 L1712.7,573.2 L1711.3,567.7 L1714,562.3 L1711.3,556.8 L1714,552.7 L1716.8,548.5 L1714,545.8 L1708.5,543.8 L1703.1,541 L1697.6,543.1 L1692.1,548.5 L1690.7,556.8 L1692.1,563.6 L1689.4,569.1 L1683.9,571.9 L1678.4,570.5 L1671.5,569.1 L1667.4,567.7 L1661.9,565 L1656.5,567.7 L1652.3,569.1 L1651,563.6 L1653.7,558.1 L1657.8,552.7 L1661.9,547.2 L1667.4,544.4 L1674.3,545.8 L1677,544.4 L1681.1,541.7 L1686.6,540.3 L1690,537.6 L1688,534.8 L1682.5,534.2 L1677,533.5 L1671.5,532.8 L1667.4,529.4 L1664.7,525.2 L1666,521.1 L1670.2,518.4 L1675.6,515.6 L1681.1,511.5 L1686.6,507.4Z" fill="#E9FFBE" stroke="#4a4a2a" stroke-width="0.6" stroke-linejoin="round"/>
<path d="M1741.5,576 L1744.2,574.6 L1746.3,576.7 L1744.9,579.4 L1742.1,579Z" fill="#E9FFBE" stroke="#4a4a2a" stroke-width="0.6" stroke-linejoin="round"/>
<path d="M1691.4,590.4 L1694.2,589 L1696.5,591.1 L1695.5,593.8 L1692.8,593.5Z" fill="#E9FFBE" stroke="#4a4a2a" stroke-width="0.6" stroke-linejoin="round"/>
<path d="M1426.4,267.7 L1435.2,266.2 L1441.5,268.2 L1444.8,273.2 L1440.2,277 L1442.7,283.2 L1449,287 L1454.8,293.3 L1459.1,289.5 L1467.9,287.8 L1477.9,284.5 L1488,280.7 L1500.6,278.2 L1508.1,274.5 L1509.4,266.9 L1516.9,260.6 L1525.7,255.6 L1529.5,250.6 L1537,248.1 L1540.8,241.8 L1547.1,231.7 L1555.9,231 L1563.4,234.2 L1568.4,239.3 L1576,240.5 L1584.8,238 L1593.6,244.3 L1601.1,236.7 L1603.6,230.5 L1601.1,222.9 L1600.4,217.4 L1608.7,211.6 L1618.7,210.3 L1622.5,206.6 L1621.2,202.3 L1631.3,201.5 L1637.6,194 L1647.6,190.2 L1659,187.2 L1671.5,187.7 L1684.1,186.5 L1692.9,187.7 L1695.4,196.5 L1697.9,204.1 L1694.2,210.3 L1692.9,216.6 L1686.6,221.7 L1679.1,226.7 L1671.5,229.9 L1664,234.2 L1659,239.3 L1651.4,244.3 L1647.6,249.3 L1645.1,253.1 L1651.4,255.6 L1655.2,261.9 L1656.4,270.7 L1661.5,277 L1669,280.7 L1675.3,285.8 L1680.3,288.3 L1679.1,297.1 L1684.1,305.9 L1682.8,315.9 L1679.1,323.5 L1675.3,317.2 L1664,315.9 L1661.5,326 L1662.7,336 L1660.2,346.1 L1653.9,356.2 L1651.4,366.2 L1651.4,363.9 L1626.3,415.4 L1616.2,454.4 L1620,465.7 L1623.3,478.3 L1625,490.8 L1622.5,497.1 L1616.2,500.9 L1609.9,499.6 L1606.2,504.7 L1601.1,513.5 L1598.6,516 L1591.1,519.8 L1586,524.8 L1576,526 L1571,531.1 L1569,538.6 L1575.7,544.6 L1577.7,552.6 L1573.7,558.7 L1565.7,563.7 L1557.6,568.7 L1549.6,564.7 L1541.5,556.7 L1535.5,548.6 L1529.5,534.5 L1520.4,522.5 L1518.4,514.4 L1514.4,504.4 L1509.3,495.3 L1504.3,486.3 L1501.3,478.2 L1500.3,470.2 L1498.3,463.1 L1500.6,464.5 L1493,458.2 L1486.7,453.1 L1480.5,446.9 L1475.4,440.6 L1469.1,436.8 L1460.3,434.3 L1454.1,430.5 L1446.5,425.5 L1440.2,426.7 L1432.7,428 L1430.2,434.3 L1423.9,436.8 L1421.4,444.3 L1415.1,450.6 L1407.5,456.9 L1400,458.2 L1395.7,457.1 L1390.7,452.1 L1383.6,455.1 L1376.6,456.1 L1370.6,460.1 L1364.5,462.1 L1361.5,468.2 L1358.5,470.2 L1361.6,470.2 L1357.6,473.2 L1355.6,472.2 L1352.5,465.2 L1349.5,459.2 L1344.5,457.2 L1339.5,460.2 L1337.5,467.2 L1335.5,467.2 L1334.4,465.2 L1332.4,458.2 L1330.4,450.1 L1330.4,443.1 L1357.6,389.8 L1415.1,300.8Z" fill="#98E600" stroke="#4a4a2a" stroke-width="0.7" stroke-linejoin="round"/>
<path d="M1584.8,373.9 L1596.1,370.2 L1608.7,365.1 L1618.7,362.1 L1631.3,361.4 L1641.4,363.9 L1651.4,364.6 L1664,365.1 L1676.6,368.9 L1689.1,371.4 L1699.2,370.2 L1705.5,376.5 L1710.5,384 L1715.5,390.3 L1721.8,394.1 L1729.4,396.6 L1734.4,405.4 L1736.9,415.4 L1735.6,425.5 L1736.9,434.3 L1731.9,436.8 L1726.8,443.1 L1728.1,453.1 L1724.3,460.7 L1720.6,465.7 L1716.8,456.9 L1709.2,451.9 L1701.7,448.1 L1692.9,443.1 L1686.6,438.1 L1679.1,434.3 L1672.8,428 L1666.5,429.3 L1661.5,425.5 L1655.7,428 L1641.4,430.5 L1630,435.5 L1627.5,450.6 L1616.2,453.1 L1611.2,448.1 L1604.9,440.6 L1598.6,431.8 L1592.3,420.5 L1587.3,410.4 L1582.3,399.1 L1579,389 L1579.8,381.5Z" fill="#AAFF00" stroke="#4a4a2a" stroke-width="0.7" stroke-linejoin="round"/>
<path d="M1128.3,261.1 L1130.3,253.6 L1142.9,252.3 L1153,249.8 L1158,247.3 L1161.8,239.8 L1166.8,236 L1163,233.5 L1158.5,231 L1161,223.4 L1163.5,215.9 L1166.8,209.6 L1173.1,210.8 L1178.1,208.3 L1188.2,210.8 L1195.7,212.9 L1200.7,210.8 L1202,205.8 L1200.7,198.3 L1203.2,190.7 L1209.5,188.2 L1210.8,183.2 L1218.3,181.9 L1224.6,178.2 L1228.9,174.4 L1226.4,165.6 L1223.9,160.6 L1218.3,155.5 L1216.3,148 L1217.8,140.5 L1214.6,132.9 L1213.8,122.9 L1218.3,120.3 L1225.9,119.1 L1232.2,118.3 L1237.2,122.9 L1242.2,127.9 L1249.8,127.9 L1251.5,121.6 L1254.8,115.8 L1259.8,113.3 L1264.8,117.8 L1269.9,124.1 L1276.2,128.6 L1283.7,125.9 L1290,121.6 L1296.3,115.8 L1298.8,109 L1299.3,100.2 L1305.1,97.7 L1306.3,90.2 L1307.1,84.6 L1312.6,87.2 L1317.6,92.7 L1323.9,96.5 L1329,100.2 L1334,105.3 L1340.3,107.8 L1343.5,114.1 L1342.8,122.9 L1339,132.9 L1337,141.7 L1342.8,144.2 L1349.1,146.7 L1351.6,154.3 L1354.1,160.6 L1356.6,168.1 L1356.6,174.4 L1362.9,176.9 L1370.4,176.9 L1376.7,180.2 L1384.3,183.2 L1390.6,182.7 L1394.8,188.2 L1394.3,195.8 L1391.8,203.3 L1388,210.8 L1394.3,213.4 L1398.1,220.9 L1405.6,224.7 L1403.1,233.5 L1400.6,237.2 L1406.9,242.3 L1413.2,243.5 L1415.7,248.6 L1409.4,253.6 L1411.9,259.9 L1419.5,264.9 L1424.5,271.2 L1427,273.8 L1428.3,281.3 L1424.5,288.9 L1420.7,295.1 L1415.7,302.7 L1418.2,309 L1424.5,307.7 L1432,311.5 L1437.1,317.8 L1434.6,326.6 L1429.5,334.1 L1424.5,340.4 L1418.2,342.9 L1413.2,344.2 L1414.9,350.5 L1418.2,358 L1420.7,368.1 L1423.2,378.1 L1425.8,388.2 L1417,392.7 L1408.2,398.2 L1401.9,403.2 L1396.8,407.8 L1393.1,413.3 L1384.3,416.3 L1375.5,420.3 L1367.9,422.1 L1366.7,427.1 L1359.1,429.6 L1352.8,433.4 L1344,435.9 L1336.5,439.7 L1329,443 L1321.4,439 L1313.4,437.9 L1317.6,433.4 L1312.6,428.4 L1310.1,422.1 L1307.6,414.6 L1300.8,410.8 L1299.3,403.2 L1305.1,402 L1306.3,395.7 L1308.8,388.2 L1307.6,381.9 L1310.1,375.6 L1313.9,370.6 L1311.4,366.8 L1303.8,365 L1293.8,369.3 L1286.2,374.3 L1276.2,373.6 L1266.1,371.8 L1256,374.3 L1246,372.6 L1238.4,368.1 L1230.9,364.3 L1220.8,362.5 L1210.8,360.5 L1200.7,362.5 L1188.2,360.5 L1175.6,358 L1165.5,355.5 L1155.5,349.2 L1145.4,345.4 L1140.4,341.7 L1146.7,335.9 L1142.9,327.8 L1139.1,321.5 L1134.1,326.6 L1125.3,329.1 L1114,325.3 L1105.2,321.5 L1100.7,317.8 L1103.9,312.7 L1106.5,305.2 L1107.7,297.7 L1110.2,290.1 L1114,282.6 L1120.3,277.5 L1126.6,270Z" fill="#FFAA00" stroke="#4a4a2a" stroke-width="0.7" stroke-linejoin="round"/>
<path d="M1337.5,467.2 L1339.5,460.2 L1344.5,457.2 L1349.5,459.2 L1352.5,465.2 L1355.6,472.2 L1357.2,479.3 L1352.5,481.3 L1346.5,483.3 L1341.5,477.3 L1338.5,472.2Z" fill="#fff" stroke="#4a4a2a" stroke-width="0.7" stroke-linejoin="round"/>
<path d="M1454.8,293.3 L1460.3,299.6 L1459.1,307.1 L1461.6,313.4 L1469.1,315.9 L1472.9,313.4 L1469.1,323.5 L1475.4,331 L1479.2,337.3 L1481.7,329.8 L1488,324.7 L1495.5,323.5 L1500.6,326 L1501.8,335 L1508.1,355.1 L1514.4,382.7 L1520.7,384 L1519.4,390.3 L1524.5,397.8 L1528.2,405.4 L1525.7,414.2 L1530.7,420.5 L1535.8,426.7 L1543.3,430.5 L1549.6,434.3 L1543.3,443.1" fill="none" stroke="#4a4a2a" stroke-width="0.7" stroke-linejoin="round"/>
<path d="M1500.6,464.5 L1508.1,458.2 L1515.7,449.4 L1525.7,450.6 L1535.8,446.9 L1543.3,443.1" fill="none" stroke="#4a4a2a" stroke-width="0.7" stroke-linejoin="round"/>
<path d="M1543.3,443.1 L1553.4,448.1 L1563.4,454.4 L1573.5,459.4 L1582.3,464.5 L1587.3,467" fill="none" stroke="#4a4a2a" stroke-width="0.7" stroke-linejoin="round"/>
<path d="M1500.3,526.5 L1505.3,525.5 L1511.4,527.5 L1508.3,532.5 L1505.3,540.6 L1503.3,552.6 L1501.3,564.7 L1495.3,576.8 L1486.2,584.8" fill="none" stroke="#4a4a2a" stroke-width="0.7" stroke-linejoin="round"/>
<g fill="#2a2a1a"><circle cx="1659.2" cy="530.7" r="0.8"/><circle cx="1660.6" cy="534.8" r="0.7"/><circle cx="1661.3" cy="538.3" r="0.8"/><circle cx="1651.2" cy="551.6" r="0.9"/><circle cx="1664" cy="574.6" r="1.0"/><circle cx="1666.7" cy="577.3" r="1.0"/><circle cx="1665.4" cy="579.8" r="0.8"/><circle cx="1668.8" cy="576" r="0.8"/><circle cx="1693.5" cy="549.9" r="0.8"/><circle cx="1696.2" cy="552.7" r="0.9"/><circle cx="1700.3" cy="551.3" r="0.8"/><circle cx="1703.1" cy="554.7" r="0.8"/><circle cx="1694.8" cy="556.8" r="0.8"/><circle cx="1682.5" cy="539.6" r="0.7"/><circle cx="1711.3" cy="562.3" r="0.8"/><circle cx="1716.8" cy="565.7" r="0.9"/><circle cx="1727.7" cy="566.4" r="0.8"/><circle cx="1740.8" cy="567.7" r="0.9"/><circle cx="1767.5" cy="542.4" r="1.0"/><circle cx="1768.9" cy="521.1" r="0.7"/><circle cx="1765.4" cy="506" r="0.8"/><circle cx="1779.8" cy="510.8" r="0.7"/><circle cx="1736" cy="512.2" r="1.0"/><circle cx="1752.4" cy="554.7" r="0.8"/><circle cx="1764.1" cy="554.7" r="0.8"/><circle cx="1672.9" cy="599.3" r="0.7"/><circle cx="1753.8" cy="599" r="0.8"/><circle cx="1825.3" cy="461.3" r="0.8"/><circle cx="1828.3" cy="465.4" r="0.9"/><circle cx="1826.9" cy="469.4" r="0.7"/><circle cx="1829.3" cy="460.3" r="0.7"/><circle cx="1826.3" cy="473.4" r="0.7"/><circle cx="1871.6" cy="499" r="0.9"/><circle cx="1833.4" cy="524.3" r="0.7"/><circle cx="1847.4" cy="451.3" r="0.7"/><circle cx="1618.9" cy="585.1" r="0.7"/><circle cx="1619.5" cy="588.9" r="0.7"/><circle cx="1620.1" cy="592.6" r="0.9"/><circle cx="1631.4" cy="587.6" r="0.7"/><circle cx="1665.4" cy="575" r="1.0"/><circle cx="1667.3" cy="578.2" r="0.9"/><circle cx="1668.5" cy="580.1" r="0.7"/><circle cx="1672.3" cy="598.3" r="0.6"/><circle cx="1699.3" cy="629.1" r="0.6"/><circle cx="1704.3" cy="635.4" r="0.7"/><circle cx="1682.3" cy="643.5" r="0.6"/><circle cx="1672.3" cy="655.5" r="0.6"/><circle cx="1714.4" cy="621.5" r="0.9"/><circle cx="1716.3" cy="620.5" r="0.8"/><circle cx="1610.7" cy="604.6" r="0.8"/><circle cx="1612.6" cy="606.5" r="0.8"/><circle cx="1639" cy="617.8" r="0.7"/><circle cx="1749" cy="572.5" r="0.7"/><circle cx="1752.7" cy="573.1" r="0.7"/><circle cx="1468.8" cy="659.3" r="0.7"/><circle cx="1470.1" cy="664.3" r="0.6"/><circle cx="1409.8" cy="670.6" r="0.7"/><circle cx="1424.8" cy="687" r="0.6"/><circle cx="1390.9" cy="697" r="0.7"/><circle cx="1387.1" cy="702" r="0.8"/><circle cx="1321.8" cy="732.7" r="0.7"/></g>
</g>
<circle cx="1282.2" cy="273.7" r="19.8" fill="#fff" stroke="#3a2a1a" stroke-width="0.8"/>
<path d="M1282.2,273.7 L1282.2,253.9 A19.8,19.8 0 0 1 1285.30,254.14Z" fill="#E2A06E" stroke="#3a2a1a" stroke-width="0.8" stroke-linejoin="round"/>
<rect x="1305.4" y="273.2" width="14" height="15.6" fill="#E8BEFF" stroke="#8a6a7a" stroke-width="0.9"/>
<rect x="1319.4" y="253.9" width="13.6" height="34.9" fill="#A900E6" stroke="#8a5a8a" stroke-width="0.9"/>
<circle cx="1464.6" cy="391.3" r="19.9" fill="#fff" stroke="#3a2a1a" stroke-width="0.8"/>
<path d="M1464.6,391.3 L1464.6,371.4 A19.9,19.9 0 1 1 1445.52,396.95Z" fill="#E2A06E" stroke="#3a2a1a" stroke-width="0.8" stroke-linejoin="round"/>
<rect x="1487.9" y="384.4" width="13.9" height="22.2" fill="#E8BEFF" stroke="#8a6a7a" stroke-width="0.9"/>
<rect x="1501.8" y="331.2" width="13.1" height="75.4" fill="#A900E6" stroke="#8a5a8a" stroke-width="0.9"/>
<circle cx="1580.5" cy="307.9" r="19.9" fill="#fff" stroke="#3a2a1a" stroke-width="0.8"/>
<path d="M1580.5,307.9 L1580.5,288 A19.9,19.9 0 0 1 1584.77,327.34Z" fill="#E2A06E" stroke="#3a2a1a" stroke-width="0.8" stroke-linejoin="round"/>
<rect x="1605.7" y="298.8" width="13" height="15.9" fill="#E8BEFF" stroke="#8a6a7a" stroke-width="0.9"/>
<rect x="1618.7" y="300.1" width="13.9" height="14.6" fill="#A900E6" stroke="#8a5a8a" stroke-width="0.9"/>
<circle cx="1764.7" cy="340.6" r="20.1" fill="#fff" stroke="#3a2a1a" stroke-width="0.8"/>
<path d="M1764.7,340.6 L1764.7,320.5 A20.1,20.1 0 0 1 1768.54,320.87Z" fill="#E2A06E" stroke="#3a2a1a" stroke-width="0.8" stroke-linejoin="round"/>
<rect x="1791.4" y="334.3" width="13.1" height="14.8" fill="#E8BEFF" stroke="#8a6a7a" stroke-width="0.9"/>
<rect x="1804.5" y="334.3" width="13.8" height="14.8" fill="#A900E6" stroke="#8a5a8a" stroke-width="0.9"/>
<circle cx="1638.8" cy="394.8" r="19.7" fill="#fff" stroke="#3a2a1a" stroke-width="0.8"/>
<path d="M1638.8,394.8 L1638.8,375.1 A19.7,19.7 0 0 1 1651.72,409.67Z" fill="#E2A06E" stroke="#3a2a1a" stroke-width="0.8" stroke-linejoin="round"/>
<rect x="1667.8" y="391.5" width="13.3" height="19.7" fill="#E8BEFF" stroke="#8a6a7a" stroke-width="0.9"/>
<rect x="1681.1" y="372.7" width="13.1" height="38.5" fill="#A900E6" stroke="#8a5a8a" stroke-width="0.9"/>
<circle cx="1550.3" cy="499.2" r="19.9" fill="#fff" stroke="#3a2a1a" stroke-width="0.8"/>
<path d="M1550.3,499.2 L1550.3,479.3 A19.9,19.9 0 1 1 1530.45,497.81Z" fill="#E2A06E" stroke="#3a2a1a" stroke-width="0.8" stroke-linejoin="round"/>
<rect x="1574.7" y="472" width="13.4" height="43.5" fill="#E8BEFF" stroke="#8a6a7a" stroke-width="0.9"/>
<rect x="1588.1" y="467" width="13" height="48.5" fill="#A900E6" stroke="#8a5a8a" stroke-width="0.9"/>
<circle cx="1380" cy="557.1" r="19.8" fill="#fff" stroke="#3a2a1a" stroke-width="0.8"/>
<path d="M1380,557.1 L1380,537.3 A19.8,19.8 0 0 1 1394.62,543.75Z" fill="#E2A06E" stroke="#3a2a1a" stroke-width="0.8" stroke-linejoin="round"/>
<rect x="1405.8" y="541.6" width="13" height="26.7" fill="#E8BEFF" stroke="#8a6a7a" stroke-width="0.9"/>
<rect x="1418.8" y="538.1" width="13.7" height="30.2" fill="#A900E6" stroke="#8a5a8a" stroke-width="0.9"/>
<circle cx="1524.4" cy="586.2" r="19.5" fill="#fff" stroke="#3a2a1a" stroke-width="0.8"/>
<path d="M1524.4,586.2 L1524.4,566.7 A19.5,19.5 0 1 1 1520.35,605.27Z" fill="#E2A06E" stroke="#3a2a1a" stroke-width="0.8" stroke-linejoin="round"/>
<rect x="1472.1" y="596.5" width="13.5" height="8.8" fill="#E8BEFF" stroke="#8a6a7a" stroke-width="0.9"/>
<rect x="1485.6" y="549.6" width="13.7" height="55.7" fill="#A900E6" stroke="#8a5a8a" stroke-width="0.9"/>
<circle cx="1589" cy="578.2" r="19.5" fill="#E2A06E" stroke="#3a2a1a" stroke-width="0.8"/>
<rect x="1614.6" y="574.1" width="13.3" height="10" fill="#E8BEFF" stroke="#8a6a7a" stroke-width="0.9"/>
<rect x="1627.9" y="574.8" width="13.8" height="9.3" fill="#A900E6" stroke="#8a5a8a" stroke-width="0.9"/>
<circle cx="1679.1" cy="475.4" r="20.1" fill="#fff" stroke="#3a2a1a" stroke-width="0.8"/>
<path d="M1679.1,475.4 L1679.1,455.3 A20.1,20.1 0 1 1 1660.42,482.83Z" fill="#E2A06E" stroke="#3a2a1a" stroke-width="0.8" stroke-linejoin="round"/>
<rect x="1629.2" y="421.7" width="13.5" height="81.9" fill="#E8BEFF" stroke="#8a6a7a" stroke-width="0.9"/>
<rect x="1642.7" y="429.8" width="13.3" height="73.8" fill="#A900E6" stroke="#8a5a8a" stroke-width="0.9"/>
<circle cx="1714.7" cy="521.3" r="20.1" fill="#fff" stroke="#3a2a1a" stroke-width="0.8"/>
<path d="M1714.7,521.3 L1714.7,501.2 A20.1,20.1 0 1 1 1694.65,522.70Z" fill="#E2A06E" stroke="#3a2a1a" stroke-width="0.8" stroke-linejoin="round"/>
<rect x="1737.8" y="439.2" width="13.5" height="106.6" fill="#E8BEFF" stroke="#8a6a7a" stroke-width="0.9"/>
<rect x="1751.3" y="489.1" width="13.7" height="56.7" fill="#A900E6" stroke="#8a5a8a" stroke-width="0.9"/>
<text x="1254.1" y="317.4" font-size="25.6" textLength="118.1" lengthAdjust="spacingAndGlyphs" fill="#0d0d0d">Zhaoqing</text>
<text x="1441.9" y="431.7" font-size="25.6" textLength="86.4" lengthAdjust="spacingAndGlyphs" fill="#0d0d0d">Foshan</text>
<text x="1543.3" y="344.8" font-size="25.6" textLength="144.6" lengthAdjust="spacingAndGlyphs" fill="#0d0d0d">Guangzhou</text>
<text x="1746.1" y="385.3" font-size="25.6" textLength="102.9" lengthAdjust="spacingAndGlyphs" fill="#0d0d0d">Huizhou</text>
<text x="1703.1" y="417.4" font-size="25.6" textLength="129.5" lengthAdjust="spacingAndGlyphs" fill="#0d0d0d">Dongguan</text>
<text x="1516.2" y="543.6" font-size="25.6" textLength="140.2" lengthAdjust="spacingAndGlyphs" fill="#0d0d0d">Zhongshan</text>
<text x="1341.4" y="598.9" font-size="25.6" textLength="118.7" lengthAdjust="spacingAndGlyphs" fill="#0d0d0d">Jiangmen</text>
<text x="1470.1" y="640.5" font-size="25.6" textLength="83" lengthAdjust="spacingAndGlyphs" fill="#0d0d0d">Zhuhai</text>
<text x="1572.6" y="619.3" font-size="25.6" textLength="81.7" lengthAdjust="spacingAndGlyphs" fill="#0d0d0d">Macao</text>
<text x="1773.4" y="494.1" font-size="25.6" textLength="122.3" lengthAdjust="spacingAndGlyphs" fill="#0d0d0d">Shenzhen</text>
<text x="1672.1" y="572" font-size="25.6" textLength="137.1" lengthAdjust="spacingAndGlyphs" fill="#0d0d0d">Hong Kong</text>
<rect x="1075.9" y="72.7" width="948.7" height="688.9" fill="none" stroke="#2b2b2b" stroke-width="1.3"/>
<path d="M1244.3,72.7 V62.9 M1244.3,761.6 V771.4" stroke="#2b2b2b" stroke-width="1.3"/>
<text x="1185.1" y="49.8" font-size="22.3" textLength="117" lengthAdjust="spacingAndGlyphs" fill="#111">112° 0′ 0″ E</text>
<text x="1185.1" y="801.9" font-size="22.3" textLength="117" lengthAdjust="spacingAndGlyphs" fill="#111">112° 0′ 0″ E</text>
<path d="M1465.1,72.7 V62.9 M1465.1,761.6 V771.4" stroke="#2b2b2b" stroke-width="1.3"/>
<text x="1405.9" y="49.8" font-size="22.3" textLength="117" lengthAdjust="spacingAndGlyphs" fill="#111">113° 0′ 0″ E</text>
<text x="1405.9" y="801.9" font-size="22.3" textLength="117" lengthAdjust="spacingAndGlyphs" fill="#111">113° 0′ 0″ E</text>
<path d="M1685.9,72.7 V62.9 M1685.9,761.6 V771.4" stroke="#2b2b2b" stroke-width="1.3"/>
<text x="1626.7" y="49.8" font-size="22.3" textLength="117" lengthAdjust="spacingAndGlyphs" fill="#111">114° 0′ 0″ E</text>
<text x="1626.7" y="801.9" font-size="22.3" textLength="117" lengthAdjust="spacingAndGlyphs" fill="#111">114° 0′ 0″ E</text>
<path d="M1907.6,72.7 V62.9 M1907.6,761.6 V771.4" stroke="#2b2b2b" stroke-width="1.3"/>
<text x="1848.4" y="49.8" font-size="22.3" textLength="117" lengthAdjust="spacingAndGlyphs" fill="#111">115° 0′ 0″ E</text>
<text x="1848.4" y="801.9" font-size="22.3" textLength="117" lengthAdjust="spacingAndGlyphs" fill="#111">115° 0′ 0″ E</text>
<path d="M1075.9,171.7 H1066 M2024.6,171.7 H2034.2" stroke="#2b2b2b" stroke-width="1.3"/>
<text x="936.2" y="180.7" font-size="22.3" textLength="115" lengthAdjust="spacingAndGlyphs" fill="#111">24° 0′ 0″ N</text>
<text x="2047.5" y="180.7" font-size="22.3" textLength="115.4" lengthAdjust="spacingAndGlyphs" fill="#111">24° 0′ 0″ N</text>
<path d="M1075.9,392.0 H1066 M2024.6,392.0 H2034.2" stroke="#2b2b2b" stroke-width="1.3"/>
<text x="936.2" y="399.9" font-size="22.3" textLength="115" lengthAdjust="spacingAndGlyphs" fill="#111">23° 0′ 0″ N</text>
<text x="2047.5" y="399.9" font-size="22.3" textLength="115.4" lengthAdjust="spacingAndGlyphs" fill="#111">23° 0′ 0″ N</text>
<path d="M1075.9,613.8 H1066 M2024.6,613.8 H2034.2" stroke="#2b2b2b" stroke-width="1.3"/>
<text x="936.2" y="622.9" font-size="22.3" textLength="115" lengthAdjust="spacingAndGlyphs" fill="#111">22° 0′ 0″ N</text>
<text x="2047.5" y="622.9" font-size="22.3" textLength="115.4" lengthAdjust="spacingAndGlyphs" fill="#111">22° 0′ 0″ N</text>
<text x="1892" y="138.6" font-size="21.5" textLength="13.1" lengthAdjust="spacingAndGlyphs" fill="#111">N</text>
<path d="M1898.6,142.3 L1885.1,188.9 L1898.6,171.4 Z" fill="#000" stroke="#000" stroke-width="0.8" stroke-linejoin="miter"/>
<path d="M1898.6,142.3 L1912.6,188 L1898.6,171.4 Z" fill="#fff" stroke="#000" stroke-width="1.2" stroke-linejoin="miter"/>
<path d="M1091.9,734.8 V746.8 H1210.5 V734.8 M1151.2,734.8 V746.8 M1106.7,738.8 V746.8 M1121.6,738.8 V746.8 M1136.4,738.8 V746.8 M1166,738.8 V746.8 M1180.9,738.8 V746.8 M1195.7,738.8 V746.8" fill="none" stroke="#2b2b2b" stroke-width="1.1"/>
<text x="1086" y="726.5" font-size="17.8" textLength="10.5" lengthAdjust="spacingAndGlyphs" fill="#111">0</text>
<text x="1114" y="726.5" font-size="17.8" textLength="17" lengthAdjust="spacingAndGlyphs" fill="#111">15</text>
<text x="1140.9" y="726.5" font-size="17.8" textLength="21.7" lengthAdjust="spacingAndGlyphs" fill="#111">30</text>
<text x="1199.6" y="726.5" font-size="17.8" textLength="54.4" lengthAdjust="spacingAndGlyphs" fill="#111">60 km</text>
<text x="1823.5" y="543.4" font-size="13.4" textLength="147" lengthAdjust="spacingAndGlyphs" fill="#111">Decrease of city-level N</text>
<text x="1823.5" y="559.5" font-size="13.4" textLength="169" lengthAdjust="spacingAndGlyphs" fill="#111">pollution in cropland (Mg yr</text>
<text x="1993.5" y="553.5" font-size="7.5" textLength="7" lengthAdjust="spacingAndGlyphs" fill="#111">−1</text>
<text x="2001.3" y="559.5" font-size="13.4" textLength="4.6" lengthAdjust="spacingAndGlyphs" fill="#111">)</text>
<rect x="1822.2" y="570.9" width="30.7" height="15" fill="#98E600" stroke="#b9b9a0" stroke-width="0.9"/>
<text x="1858.7" y="583" font-size="13.4" textLength="59.1" lengthAdjust="spacingAndGlyphs" fill="#111">&lt; −15,000</text>
<rect x="1822.2" y="591.8" width="30.7" height="15" fill="#AAFF00" stroke="#3d5a10" stroke-width="1.1"/>
<text x="1858.7" y="603.9" font-size="13.4" textLength="118.9" lengthAdjust="spacingAndGlyphs" fill="#111">−15,000 to −10,000</text>
<rect x="1822.2" y="612.6" width="30.7" height="15" fill="#D1FF73" stroke="#b9b9a0" stroke-width="0.9"/>
<text x="1858.7" y="624.7" font-size="13.4" textLength="113.9" lengthAdjust="spacingAndGlyphs" fill="#111">−10,000 to −5,000</text>
<rect x="1822.2" y="633.4" width="30.7" height="15" fill="#E9FFBE" stroke="#b9b9a0" stroke-width="0.9"/>
<text x="1858.7" y="645.5" font-size="13.4" textLength="72.9" lengthAdjust="spacingAndGlyphs" fill="#111">−5,000 to 0</text>
<rect x="1822.2" y="654.3" width="30.7" height="15" fill="#FFEBAF" stroke="#b9b9a0" stroke-width="0.9"/>
<text x="1858.7" y="666.4" font-size="13.4" textLength="71.6" lengthAdjust="spacingAndGlyphs" fill="#111">0 to 10,000</text>
<rect x="1822.2" y="675.1" width="30.7" height="15" fill="#FFAA00" stroke="#b9b9a0" stroke-width="0.9"/>
<text x="1858.7" y="687.2" font-size="13.4" textLength="54" lengthAdjust="spacingAndGlyphs" fill="#111">&gt; 10,000</text>
<text x="1821" y="709.3" font-size="13.4" textLength="186" lengthAdjust="spacingAndGlyphs" fill="#111">Decrease of cropland area (%)</text>
<circle cx="1839.4" cy="735.8" r="19.7" fill="#fff" stroke="#3a2a1a" stroke-width="0.8"/>
<path d="M1839.4,735.8 L1839.4,716.1 A19.7,19.7 0 0 1 1839.40,755.50Z" fill="#E2A06E" stroke="#3a2a1a" stroke-width="0.8" stroke-linejoin="round"/>
<text x="1866.2" y="740.7" font-size="13.4" textLength="15.3" lengthAdjust="spacingAndGlyphs" fill="#111">50</text>
<text x="1670.6" y="692.2" font-size="13.4" textLength="109.4" lengthAdjust="spacingAndGlyphs" fill="#111">Average N load of</text>
<text x="1670.6" y="709.3" font-size="13.4" textLength="124" lengthAdjust="spacingAndGlyphs" fill="#111">crop products (kg kg</text>
<text x="1795.3" y="703.3" font-size="7.5" textLength="7" lengthAdjust="spacingAndGlyphs" fill="#111">−1</text>
<text x="1803.2" y="709.3" font-size="13.4" textLength="4.6" lengthAdjust="spacingAndGlyphs" fill="#111">)</text>
<rect x="1671.2" y="721.4" width="30.8" height="11.7" fill="#E8BEFF" stroke="#8a6a7a" stroke-width="0.9"/>
<rect x="1671.2" y="742.2" width="30.8" height="11.4" fill="#A900E6" stroke="#8a5a8a" stroke-width="0.9"/>
<text x="1708.4" y="730.6" font-size="13.4" textLength="28.1" lengthAdjust="spacingAndGlyphs" fill="#111">1989</text>
<text x="1708.4" y="751.8" font-size="13.4" textLength="28.1" lengthAdjust="spacingAndGlyphs" fill="#111">2018</text>
<rect x="1748.5" y="718.7" width="13.7" height="34.2" fill="#A900E6" stroke="#8a5a8a" stroke-width="0.9"/>
<text x="1768.9" y="738.7" font-size="13.4" textLength="7.1" lengthAdjust="spacingAndGlyphs" fill="#111">2</text>
</g>
</svg>
</body></html>
